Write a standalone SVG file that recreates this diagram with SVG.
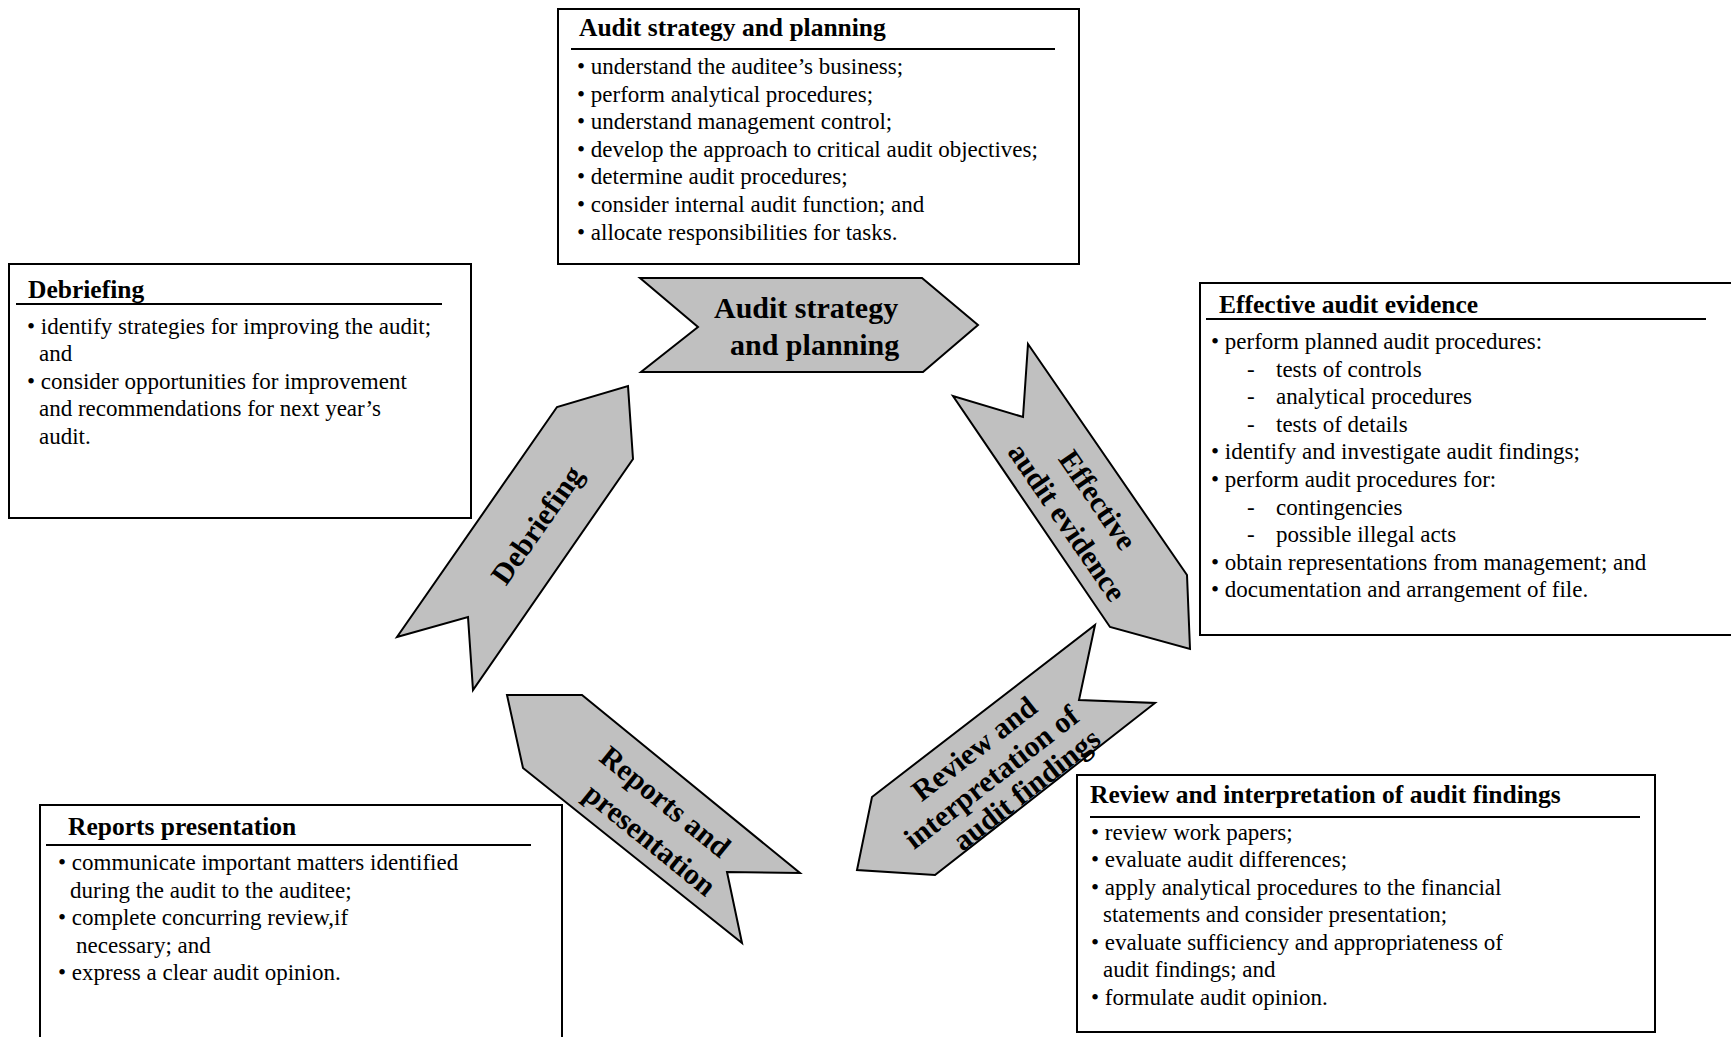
<svg xmlns="http://www.w3.org/2000/svg" width="1731" height="1037" viewBox="0 0 1731 1037">
<style>
.box{fill:#fff;stroke:#000;stroke-width:2}
.ul{stroke:#000;stroke-width:2}
.arrow{fill:#c0c0c0;stroke:#000;stroke-width:2;stroke-linejoin:miter}
.t{font-family:"Liberation Serif","Times New Roman",serif;font-size:23px;fill:#000}
.h{font-family:"Liberation Serif","Times New Roman",serif;font-size:25.5px;font-weight:bold;fill:#000}
.a{font-family:"Liberation Serif","Times New Roman",serif;font-size:30px;font-weight:bold;fill:#000;text-anchor:middle}
</style>
<rect width="1731" height="1037" fill="#fff"/>

<g id="box-planning">
<rect class="box" x="558" y="9" width="521" height="255"/>
<text class="h" x="579" y="36">Audit strategy and planning</text>
<line class="ul" x1="571" y1="49" x2="1055" y2="49"/>
<text class="t" x="577" y="74">• understand the auditee’s business;</text>
<text class="t" x="577" y="101.6">• perform analytical procedures;</text>
<text class="t" x="577" y="129.2">• understand management control;</text>
<text class="t" x="577" y="156.8">• develop the approach to critical audit objectives;</text>
<text class="t" x="577" y="184.4">• determine audit procedures;</text>
<text class="t" x="577" y="212">• consider internal audit function; and</text>
<text class="t" x="577" y="239.6">• allocate responsibilities for tasks.</text>
</g>

<g id="box-debriefing">
<rect class="box" x="9" y="264" width="462" height="254"/>
<text class="h" x="28" y="298">Debriefing</text>
<line class="ul" x1="16" y1="304" x2="442" y2="304"/>
<text class="t" x="27" y="334">• identify strategies for improving the audit;</text>
<text class="t" x="39" y="361">and</text>
<text class="t" x="27" y="388.5">• consider opportunities for improvement</text>
<text class="t" x="39" y="416">and recommendations for next year’s</text>
<text class="t" x="39" y="443.5">audit.</text>
</g>

<g id="box-evidence">
<rect class="box" x="1200" y="283" width="560" height="352"/>
<text class="h" x="1219" y="313">Effective audit evidence</text>
<line class="ul" x1="1206" y1="319" x2="1706" y2="319"/>
<text class="t" x="1211" y="349">• perform planned audit procedures:</text>
<text class="t" x="1247" y="376.6">-</text><text class="t" x="1276" y="376.6">tests of controls</text>
<text class="t" x="1247" y="404.2">-</text><text class="t" x="1276" y="404.2">analytical procedures</text>
<text class="t" x="1247" y="431.8">-</text><text class="t" x="1276" y="431.8">tests of details</text>
<text class="t" x="1211" y="459.4">• identify and investigate audit findings;</text>
<text class="t" x="1211" y="487">• perform audit procedures for:</text>
<text class="t" x="1247" y="514.6">-</text><text class="t" x="1276" y="514.6">contingencies</text>
<text class="t" x="1247" y="542.2">-</text><text class="t" x="1276" y="542.2">possible illegal acts</text>
<text class="t" x="1211" y="569.8">• obtain representations from management; and</text>
<text class="t" x="1211" y="597.4">• documentation and arrangement of file.</text>
</g>

<g id="box-review">
<rect class="box" x="1077" y="775" width="578" height="257"/>
<text class="h" x="1090" y="803">Review and interpretation of audit findings</text>
<line class="ul" x1="1090" y1="817" x2="1640" y2="817"/>
<text class="t" x="1091" y="839.5">• review work papers;</text>
<text class="t" x="1091" y="867">• evaluate audit differences;</text>
<text class="t" x="1091" y="894.5">• apply analytical procedures to the financial</text>
<text class="t" x="1103" y="922">statements and consider presentation;</text>
<text class="t" x="1091" y="949.5">• evaluate sufficiency and appropriateness of</text>
<text class="t" x="1103" y="977">audit findings; and</text>
<text class="t" x="1091" y="1004.5">• formulate audit opinion.</text>
</g>

<g id="box-reports">
<rect class="box" x="40" y="805" width="522" height="260"/>
<text class="h" x="68" y="835">Reports presentation</text>
<line class="ul" x1="46" y1="845" x2="531" y2="845"/>
<text class="t" x="58" y="870">• communicate important matters identified</text>
<text class="t" x="70" y="897.5">during the audit to the auditee;</text>
<text class="t" x="58" y="925">• complete concurring review,if</text>
<text class="t" x="76" y="952.5">necessary; and</text>
<text class="t" x="58" y="980">• express a clear audit opinion.</text>
</g>

<g id="arrow-planning">
<polygon class="arrow" points="640,278 922,278 978,325 923,372 641,372 698,327"/>
<text class="a" style="text-anchor:start" x="714" y="318">Audit strategy</text>
<text class="a" style="text-anchor:start" x="730" y="355">and planning</text>
</g>

<g id="arrow-evidence">
<polygon class="arrow" points="1028,344 1187,575 1190,649 1110,627 953,396 1023,417"/>
<g transform="translate(1081,509) rotate(55.5)">
<text class="a" x="2" y="-9">Effective</text>
<text class="a" x="3" y="29">audit evidence</text>
</g>
</g>

<g id="arrow-review">
<polygon class="arrow" points="1095,625 1079,700 1155,703 935,875 857,870 872,797"/>
<g transform="translate(992,778) rotate(-38)">
<text class="a" x="4" y="-24">Review and</text>
<text class="a" x="0" y="9">interpretation of</text>
<text class="a" x="20" y="40">audit findings</text>
</g>
</g>

<g id="arrow-reports">
<polygon class="arrow" points="507,695 582,695 800,873 727,872 742,943 523,768"/>
<g transform="translate(652,818) rotate(39)">
<text class="a" x="0" y="-11">Reports and</text>
<text class="a" x="12" y="28">presentation</text>
</g>
</g>

<g id="arrow-debriefing">
<polygon class="arrow" points="628,386 633,459 473,690 468,617 397,637 557,407"/>
<text class="a" transform="translate(537,525) rotate(-55)" x="0" y="10">Debriefing</text>
</g>

<g id="connectors"></g>
</svg>
